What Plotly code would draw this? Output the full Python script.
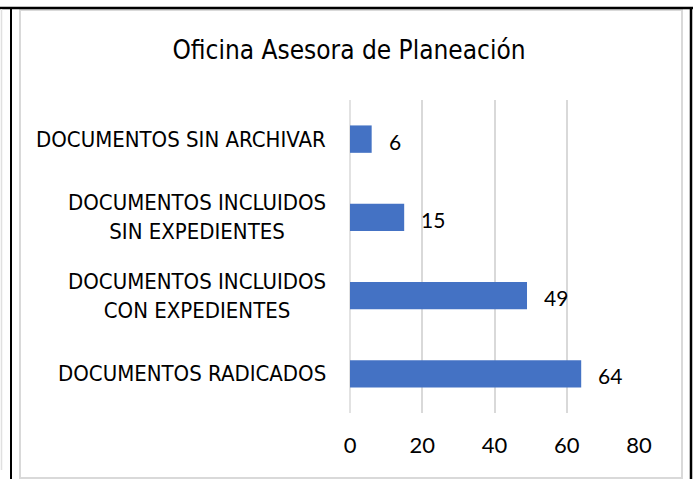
import plotly.graph_objects as go

categories = ["DOCUMENTOS RADICADOS", "DOCUMENTOS INCLUIDOS<br>CON EXPEDIENTES",
              "DOCUMENTOS INCLUIDOS<br>SIN EXPEDIENTES", "DOCUMENTOS SIN ARCHIVAR"]
values = [64, 49, 15, 6]
x_ticks = [0, 20, 40, 60, 80]
title_text = "Oficina Asesora de Planeación"

W, H = 698, 479
L, R, T, B = 350, 639, 100, 413  # plot area in pixels

def px(x):
    return (x - L) / (R - L)

def py(y):
    return (B - y) / (B - T)

NARROW = "DejaVu Sans Condensed, Liberation Sans Narrow, Arial Narrow, sans-serif"
CAL = "Lato, Carlito, Calibri, sans-serif"

fig = go.Figure(go.Bar(
    x=values, y=categories, orientation="h",
    marker=dict(color="#4472C4", line=dict(width=0)),
    width=0.35, hoverinfo="skip",
))

annotations = []
for c, v in zip(categories, values):
    annotations.append(dict(x=v, y=c, xref="x", yref="y", text=str(v), showarrow=False,
                            xanchor="left", yanchor="middle", xshift=15, yshift=-2,
                            font=dict(family=CAL, size=21, color="#000000")))
    annotations.append(dict(x=0, y=c, xref="paper", yref="y", text=c, showarrow=False,
                            xanchor="right", yanchor="middle", align="center", xshift=-22,
                            font=dict(family=NARROW, size=22, color="#000000")))

shapes = [
    # chart border (light gray)
    dict(type="rect", xref="paper", yref="paper", x0=px(20), x1=px(682), y0=py(478), y1=py(10),
         line=dict(color="#d9d9d9", width=2), layer="below"),
    # zero gridline
    dict(type="line", xref="paper", yref="paper", x0=px(350), x1=px(350), y0=0, y1=1,
         line=dict(color="#d9d9d9", width=1.5), layer="below"),
    # outer black table lines
    dict(type="line", xref="paper", yref="paper", x0=px(0), x1=px(693), y0=py(8), y1=py(8),
         line=dict(color="#000000", width=2.5)),
    dict(type="line", xref="paper", yref="paper", x0=px(11), x1=px(11), y0=py(8), y1=py(480),
         line=dict(color="#000000", width=2)),
    dict(type="line", xref="paper", yref="paper", x0=px(691), x1=px(691), y0=py(8), y1=py(480),
         line=dict(color="#000000", width=2.5)),
    dict(type="line", xref="paper", yref="paper", x0=px(1.5), x1=px(1.5), y0=py(9), y1=py(470),
         line=dict(color="#e0e0e0", width=1.5)),
]

fig.update_layout(
    width=W, height=H,
    margin=dict(l=L, r=W - R, t=T, b=H - B, pad=0),
    paper_bgcolor="white", plot_bgcolor="rgba(0,0,0,0)",
    title=dict(text=title_text, x=0.5, xref="container", xanchor="center",
               y=1 - 50 / H, yref="container", yanchor="middle",
               font=dict(family=NARROW, size=26, color="#000000")),
    xaxis=dict(range=[0, 80], tickvals=x_ticks, showgrid=True, gridcolor="#d9d9d9", gridwidth=1.5,
               zeroline=False, showline=False, ticks="", ticklabelstandoff=17,
               tickfont=dict(family=CAL, size=22, color="#000000"), fixedrange=True),
    yaxis=dict(showticklabels=False, showgrid=False, zeroline=False, showline=False,
               range=[-0.5, 3.5], fixedrange=True),
    annotations=annotations, shapes=shapes, showlegend=False,
)

fig.write_html("out.html", config={"displayModeBar": False},
               post_script="document.body.style.margin='0';")
